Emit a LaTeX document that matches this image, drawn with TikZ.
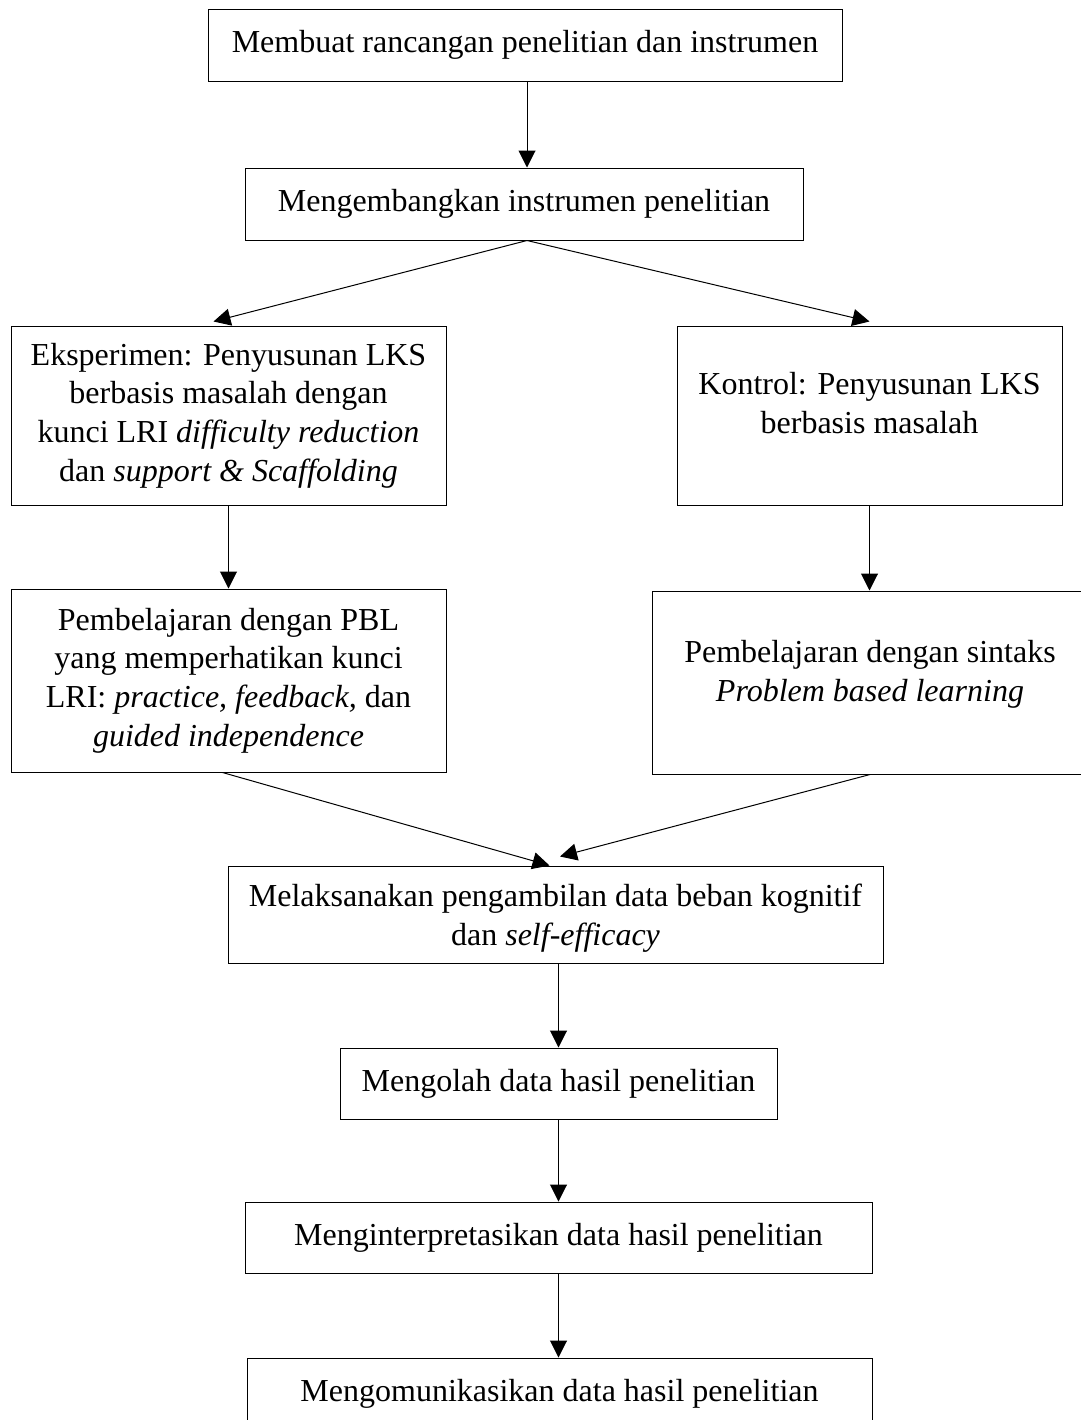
\documentclass[tikz,border=0pt]{standalone}
\usepackage{fontspec}
\setmainfont{Liberation Serif}
\usetikzlibrary{arrows.meta}

\tikzset{
  box/.style={draw, line width=0.5pt, align=center, inner sep=0pt,
    font=\fontsize{16pt}{19.35pt}\selectfont}
}

\begin{document}
\begin{tikzpicture}[>={Triangle[length=8.5pt,width=8.5pt]}, x=0.5pt, y=-0.5pt, line width=0.5pt]
    \useasboundingbox (0,0) rectangle (1081,1420);

    \node[box, minimum width=317pt, minimum height=36pt] (b1) at (525,45) {Membuat rancangan penelitian dan instrumen};
    \node[box, minimum width=279pt, minimum height=36pt] (b2) at (524,204) {Mengembangkan instrumen penelitian};
    \node[box, minimum width=217.5pt, minimum height=89.5pt] (eks) at (228.5,415.5)
        {Eksperimen: Penyusunan LKS\\berbasis masalah dengan\\kunci LRI \textit{difficulty reduction}\\dan \textit{support \& Scaffolding}};
    \node[box, minimum width=192.5pt, minimum height=89.5pt, text depth=12.5pt] (kon) at (869.5,415.5)
        {Kontrol: Penyusunan LKS\\berbasis masalah};
    \node[box, minimum width=217.5pt, minimum height=91.5pt] (pbl) at (228.5,680.5)
        {Pembelajaran dengan PBL\\yang memperhatikan kunci\\LRI: \textit{practice, feedback,} dan\\\textit{guided independence}};
    \node[box, minimum width=218pt, minimum height=91.5pt, text depth=11.5pt] (sin) at (870,682.5)
        {Pembelajaran dengan sintaks\\\textit{Problem based learning}};
    \node[box, minimum width=327.5pt, minimum height=48.5pt, text depth=0pt] (b7) at (555.5,914.5)
        {Melaksanakan pengambilan data beban kognitif\\dan \textit{self-efficacy}};
    \node[box, minimum width=218.5pt, minimum height=35.5pt] (b8) at (558.5,1083.5) {Mengolah data hasil penelitian};
    \node[box, minimum width=313.5pt, minimum height=35.5pt] (b9) at (558.5,1237.5) {Menginterpretasikan data hasil penelitian};
    \node[box, minimum width=312.5pt, minimum height=36pt] (b10) at (559.5,1394) {Mengomunikasikan data hasil penelitian};

    \path[->] ([xshift=1pt]b1.south) edge ([xshift=1pt]b1.south |- b2.north);
    \path[->] ([xshift=1.5pt]b2.south) edge ([xshift=-7.5pt,yshift=2pt]eks.north);
    \path[->] ([xshift=1.5pt]b2.south) edge ([yshift=2pt]kon.north);
    \path[->] (eks.south) edge (pbl.north);
    \path[->] (kon.south) edge (kon.south |- sin.north);
    \path[->] ([xshift=-3pt]pbl.south) edge ([xshift=-3pt]b7.north);
    \path[->] (sin.south) edge ([xshift=2.25pt,yshift=4.5pt]b7.north);
    \path[->] (b7.south -| b8.north) edge (b8.north);
    \path[->] (b8.south) edge (b9.north);
    \path[->] (b9.south) edge (b9.south |- b10.north);
\end{tikzpicture}
\end{document}
